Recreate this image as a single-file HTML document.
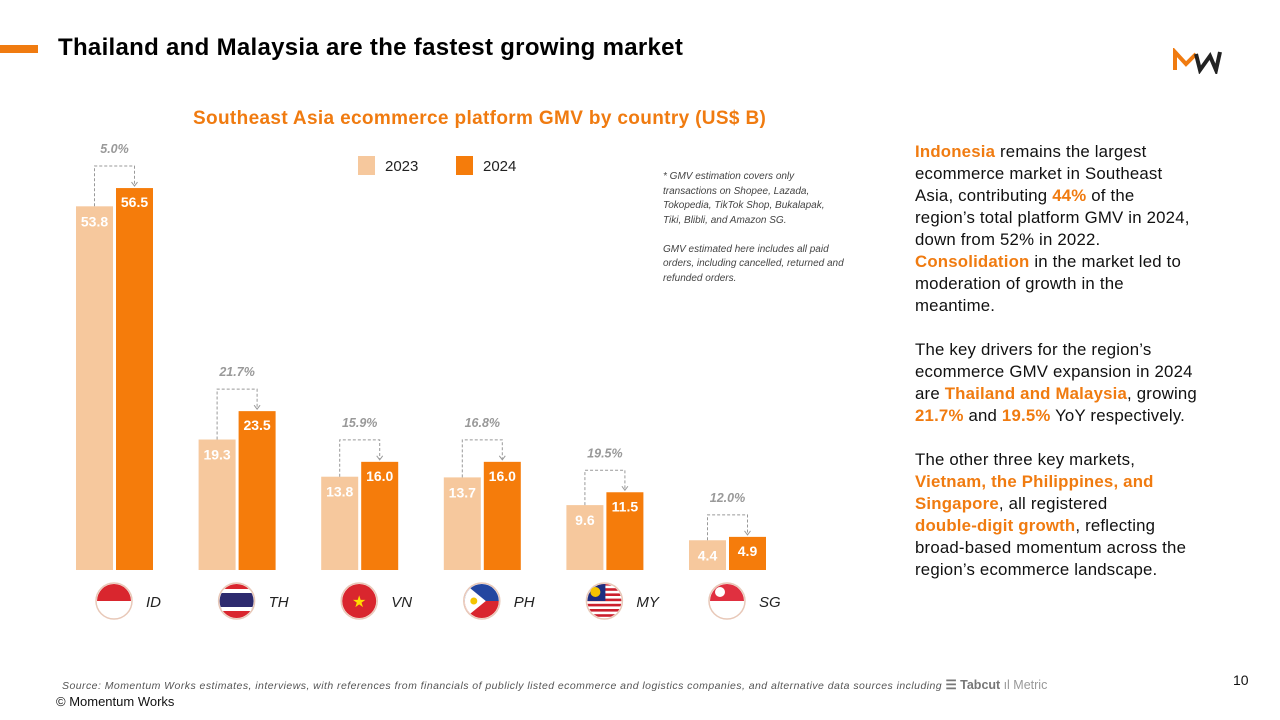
<!DOCTYPE html>
<html><head><meta charset="utf-8"><style>
body{margin:0;width:1280px;height:720px;background:#fff;font-family:"Liberation Sans",sans-serif;position:relative;overflow:hidden}
.abs{position:absolute}
.o{color:#f07b10;font-weight:bold}
</style></head><body>
<div class="abs" style="left:0;top:45px;width:38px;height:8px;background:#f07b10"></div>
<div class="abs" style="left:58px;top:34px;font-size:24px;letter-spacing:0.3px;font-weight:bold;color:#000">Thailand and Malaysia are the fastest growing market</div>
<svg class="abs" style="left:1172px;top:48px" width="60" height="26" viewBox="0 0 60 26"><path d="M3 22 V4 L14 16 L24 6" stroke="#f07b10" stroke-width="4" fill="none"/><path d="M24 6 L28 22 L38 8 L44 22 L48 4" stroke="#222" stroke-width="4" fill="none"/></svg>
<div class="abs" style="left:193px;top:108px;font-size:19px;letter-spacing:0.35px;font-weight:bold;color:#f07b10">Southeast Asia ecommerce platform GMV by country (US$ B)</div>
<div class="abs" style="left:663px;top:170px;font-size:10px;font-style:italic;color:#444;line-height:14.5px;width:182px">* GMV estimation covers only transactions on Shopee, Lazada, Tokopedia, TikTok Shop, Bukalapak, Tiki, Blibli, and Amazon SG.<br><br>GMV estimated here includes all paid orders, including cancelled, returned and refunded orders.</div>
<div class="abs" style="left:915px;top:141px;font-size:16.8px;letter-spacing:0.2px;line-height:22px;color:#111;white-space:nowrap">
<span class="o">Indonesia</span> remains the largest<br>ecommerce market in Southeast<br>Asia, contributing <span class="o">44%</span> of the<br>region’s total platform GMV in 2024,<br>down from 52% in 2022.<br><span class="o">Consolidation</span> in the market led to<br>moderation of growth in the<br>meantime.<br><br>
The key drivers for the region’s<br>ecommerce GMV expansion in 2024<br>are <span class="o">Thailand and Malaysia</span>, growing<br><span class="o">21.7%</span> and <span class="o">19.5%</span> YoY respectively.<br><br>
The other three key markets,<br><span class="o">Vietnam, the Philippines, and</span><br><span class="o">Singapore</span>, all registered<br><span class="o">double-digit growth</span>, reflecting<br>broad-based momentum across the<br>region’s ecommerce landscape.</div>
<div class="abs" style="left:62px;top:677px;font-size:10.5px;letter-spacing:0.45px;font-style:italic;color:#555;white-space:nowrap">Source: Momentum Works estimates, interviews, with references from financials of publicly listed ecommerce and logistics companies,  and alternative data sources including <span style="font-style:normal;font-weight:bold;color:#777;font-size:12.5px;letter-spacing:0">☰ Tabcut</span> <span style="font-style:normal;color:#999;font-size:12.5px;letter-spacing:0">ıl Metric</span></div>
<div class="abs" style="left:56px;top:694px;font-size:13px;color:#111">© Momentum Works</div>
<div class="abs" style="left:1233px;top:672px;font-size:14px;color:#111">10</div>
<svg class="abs" id="chart" style="left:0;top:0" width="900" height="650"></svg>
<script>
const countries=["ID","TH","VN","PH","MY","SG"];
const v2023=[53.8,19.3,13.8,13.7,9.6,4.4];
const v2024=[56.5,23.5,16.0,16.0,11.5,4.9];
const growth=["5.0%","21.7%","15.9%","16.8%","19.5%","12.0%"];
const legendLabels=["2023","2024"];
const NS="http://www.w3.org/2000/svg";
const svg=document.getElementById('chart');
const base=570,k=6.76,x0=76,step=122.6,bw=37,gap=3;
const y=v=>base-v*k;
const gx=i=>x0+i*step;
function mk(t,a,p){const e=document.createElementNS(NS,t);for(const n in a)e.setAttribute(n,a[n]);(p||svg).appendChild(e);return e;}
const c1="#f6c89d",c2="#f57c0b";
[c1,c2].forEach((c,i)=>{
const g=mk('g',{});


mk('rect',{x:358+i*98,y:156,width:17,height:19,fill:c},g);
const t=mk('text',{x:385+i*98,y:171,'font-size':15,fill:'#222'},g);t.textContent=legendLabels[i];
});
countries.forEach((c,i)=>{
const xa=gx(i),xb=xa+bw+gap;
const g=mk('g',{});


const r1=mk('rect',{x:xa,y:y(v2023[i]),width:bw,height:v2023[i]*k,fill:c1},g);


const r2=mk('rect',{x:xb,y:y(v2024[i]),width:bw,height:v2024[i]*k,fill:c2},g);


let t=mk('text',{x:xa+bw/2,y:y(v2023[i])+20,'font-size':14,'font-weight':'bold',fill:'#fff','text-anchor':'middle'},g);t.textContent=v2023[i].toFixed(1);
t=mk('text',{x:xb+bw/2,y:y(v2024[i])+19,'font-size':14,'font-weight':'bold',fill:'#fff','text-anchor':'middle'},g);t.textContent=v2024[i].toFixed(1);
const by=y(v2024[i])-22;
mk('path',{d:`M${xa+bw/2} ${y(v2023[i])} V${by} H${xb+bw/2} V${y(v2024[i])-3}`,stroke:'#999',fill:'none','stroke-dasharray':'3,2','stroke-width':1},g);
mk('path',{d:`M${xb+bw/2-3} ${y(v2024[i])-6} L${xb+bw/2} ${y(v2024[i])-2} L${xb+bw/2+3} ${y(v2024[i])-6}`,stroke:'#999',fill:'none'},g);
t=mk('text',{x:(xa+xb+bw)/2,y:by-13,'font-size':12.5,'font-style':'italic','font-weight':'bold',fill:'#999','text-anchor':'middle'},g);t.textContent=growth[i];
const cx=xa+bw+1,cy=601;
mk('circle',{cx:cx,cy:cy,r:18,fill:'#fff',stroke:'#e8c8b8','stroke-width':1.5},g);
t=mk('text',{x:cx+32,y:cy+6,'font-size':15,'font-style':'italic',fill:'#222'},g);t.textContent=c;
});
function clip(i){const cx=gx(i)+bw+1;const id='cf'+i;const cp=mk('clipPath',{id:id});mk('circle',{cx:cx,cy:601,r:17},cp);return {cx,id};}
let f=clip(0);mk('rect',{x:f.cx-18,y:583,width:36,height:18,fill:'#d9262e','clip-path':`url(#${f.id})`});
f=clip(1);[['#d9262e',583,7],['#fff',589,4],['#2d2a6e',593,16],['#fff',607,4],['#d9262e',611,10]].forEach(s=>mk('rect',{x:f.cx-18,y:s[1],width:36,height:s[2],fill:s[0],'clip-path':`url(#${f.id})`}));
f=clip(2);mk('circle',{cx:f.cx,cy:601,r:17,fill:'#d9262e'});let st=mk('text',{x:f.cx,y:607,'font-size':16,fill:'#ffdd00','text-anchor':'middle'});st.textContent='★';
f=clip(3);mk('rect',{x:f.cx-18,y:583,width:36,height:18,fill:'#2346a0','clip-path':`url(#${f.id})`});mk('rect',{x:f.cx-18,y:601,width:36,height:18,fill:'#d9262e','clip-path':`url(#${f.id})`});mk('path',{d:`M${f.cx-18} 583 L${f.cx+4} 601 L${f.cx-18} 619Z`,fill:'#fff','clip-path':`url(#${f.id})`});mk('circle',{cx:f.cx-8,cy:601,r:3.5,fill:'#f4c400'});
f=clip(4);for(let s=0;s<7;s++)mk('rect',{x:f.cx-18,y:583+s*5.2,width:36,height:2.6,fill:'#cc1f2d','clip-path':`url(#${f.id})`});mk('rect',{x:f.cx-18,y:583,width:19,height:18,fill:'#1e2e80','clip-path':`url(#${f.id})`});mk('circle',{cx:f.cx-9,cy:592,r:5,fill:'#f4c400'});
f=clip(5);mk('rect',{x:f.cx-18,y:583,width:36,height:18,fill:'#e03040','clip-path':`url(#${f.id})`});mk('circle',{cx:f.cx-7,cy:592,r:5,fill:'#fff'});
</script>
</body></html>
